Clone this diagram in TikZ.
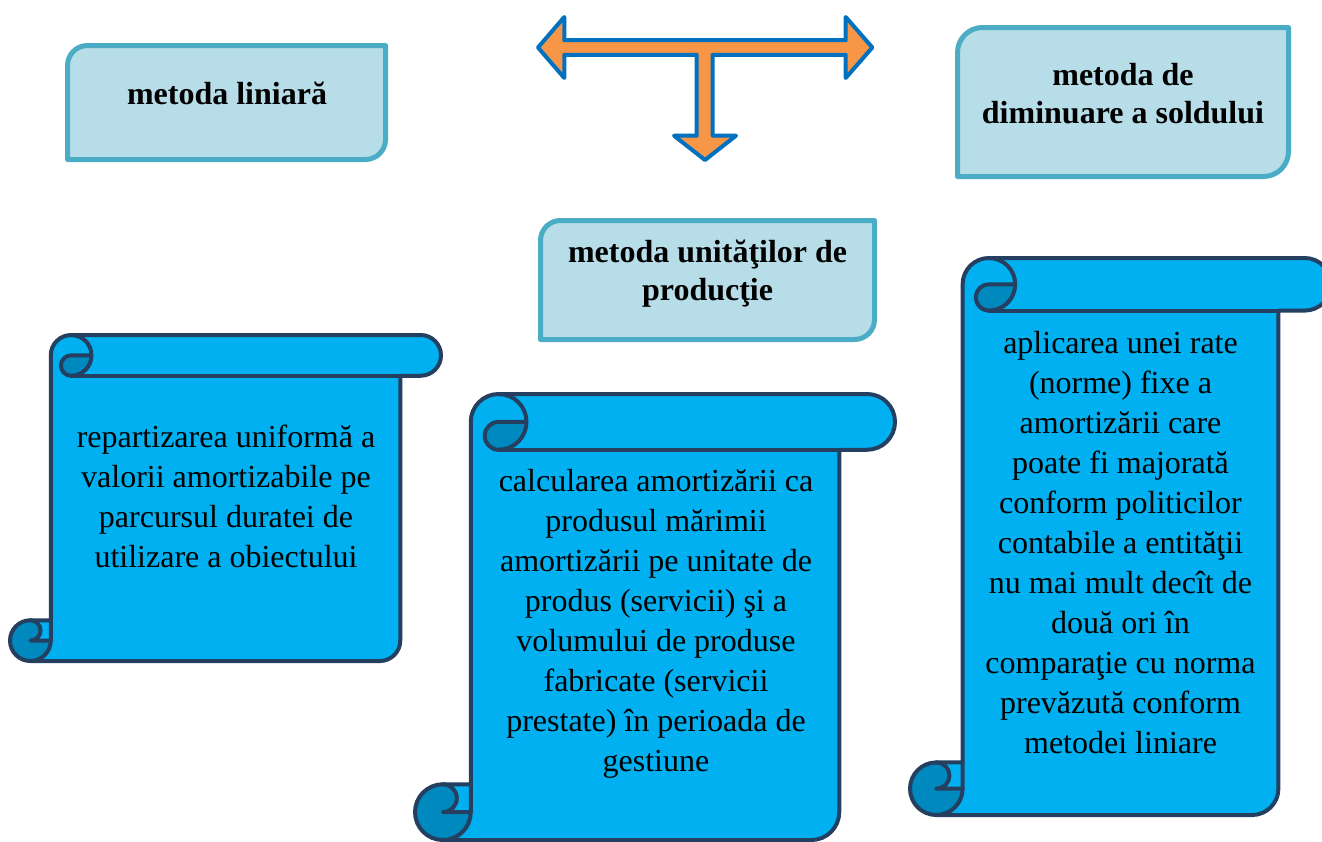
\documentclass[tikz,border=0pt]{standalone}
\usepackage{fontspec}
\setmainfont{Liberation Serif}
\usepackage{xcolor}
\usepackage{tikz}
\usetikzlibrary{positioning}
\definecolor{hdrfill}{HTML}{B7DDE8}
\definecolor{hdrline}{HTML}{4BACC6}
\definecolor{arrowfill}{HTML}{F79646}
\definecolor{arrowline}{HTML}{0070C0}
\definecolor{paper}{HTML}{00B0F0}
\definecolor{paperdark}{HTML}{0089BF}
\definecolor{paperline}{HTML}{243F60}
\tikzset{
  HdrBox/.style={
    draw=hdrline, fill=hdrfill,
    line width=2.5pt, line join=round
  },
  HdrText/.style={
    inner sep=0pt, align=center, anchor=north,
    font=\fontsize{16}{18.8}\selectfont\bfseries
  },
  ScrollText/.style={
    inner sep=0pt, align=center, anchor=north,
    font=\fontsize{16}{20}\selectfont
  },
  TArrow/.style={
    draw=arrowline, fill=arrowfill,
    line width=2pt, line join=round
  }
}
\newcommand{\HeaderBox}[5]{%
  % #1,#2 = top left, #3,#4 = bottom right, #5 = corner radius
  \draw[HdrBox] (#1,#2+#5) arc[start angle=180, delta angle=90, radius=#5]
    -- (#3,#2) -- (#3,#4-#5) arc[start angle=0, delta angle=90, radius=#5]
    -- (#1,#4) -- cycle;
}
\newcommand{\ScrollShape}[5]{%
  % #1,#2 = top left, #3 = width, #4 = height, #5 = size of the roll
  \pgfmathsetmacro{\scX}{#1}\pgfmathsetmacro{\scY}{#2}%
  \pgfmathsetmacro{\scR}{#1+#3}\pgfmathsetmacro{\scB}{#2+#4}%
  \pgfmathsetmacro{\scC}{#5}\pgfmathsetmacro{\scH}{#5/2}\pgfmathsetmacro{\scQ}{#5/4}%
  % paper
  \fill[paper] (\scX+\scH,\scB-\scC) -- (\scX+\scC,\scB-\scC) -- (\scX+\scC,\scY+\scH)
    arc[start angle=180, delta angle=90, radius=\scH] -- (\scR-\scH,\scY)
    arc[start angle=270, delta angle=180, radius=\scH] -- (\scR-\scC,\scY+\scC)
    -- (\scR-\scC,\scB-\scH) arc[start angle=0, delta angle=90, radius=\scH]
    -- (\scX+\scH,\scB) -- cycle;
  % rolled ends
  \fill[paperdark] (\scX+2*\scC,\scY+\scH) arc[start angle=0, delta angle=90, radius=\scH]
    arc[start angle=90, delta angle=180, radius=\scQ] -- cycle;
  \fill[paperdark] (\scX+\scC,\scB-\scH) arc[start angle=0, delta angle=270, radius=\scH]
    arc[start angle=270, delta angle=180, radius=\scQ] -- cycle;
  % outline
  \begin{scope}[draw=paperline, line width=2pt, line join=round, line cap=round]
    \draw (\scX+\scC,\scB-\scC) -- (\scX+\scC,\scY+\scH)
      arc[start angle=180, delta angle=90, radius=\scH] -- (\scR-\scH,\scY)
      arc[start angle=270, delta angle=180, radius=\scH] -- (\scR-\scC,\scY+\scC)
      -- (\scR-\scC,\scB-\scH) arc[start angle=0, delta angle=90, radius=\scH]
      -- (\scX+\scH,\scB) arc[start angle=90, delta angle=180, radius=\scH] -- cycle;
    \draw (\scX+\scC+\scH,\scY) arc[start angle=270, delta angle=180, radius=\scH]
      arc[start angle=90, delta angle=180, radius=\scQ] -- (\scX+2*\scC,\scY+\scH);
    \draw (\scR-\scC,\scY+\scC) -- (\scX+\scC+\scH,\scY+\scC);
    \draw (\scX+\scH,\scB-\scC) arc[start angle=270, delta angle=180, radius=\scQ]
      -- (\scX+\scC,\scB-\scH);
    \draw (\scX+\scH,\scB) arc[start angle=90, delta angle=-90, radius=\scH]
      -- (\scX+\scC,\scB-\scC);
  \end{scope}
}

\begin{document}
\begin{tikzpicture}[x=0.5pt, y=-0.5pt]
  \useasboundingbox (0,0) rectangle (1322,841);

  % method boxes
  \HeaderBox{67.5}{45.5}{385.5}{159.5}{20}
  \HeaderBox{957.5}{27.5}{1288.5}{176.5}{25}
  \HeaderBox{540.5}{220.5}{874.5}{339.5}{20}
  \node[HdrText] (liniara) at (227,78) {\strut metoda liniară};
  \node[HdrText] (diminuare) at (1123,58.9) {\strut metoda de\\diminuare a soldului};
  \node[HdrText] (unitati) at (707.6,236) {\strut metoda unităţilor de\\producţie};

  % three-way arrow
  \draw[TArrow] (538,47.5) -- (564.3,17) -- (564.3,40.2) -- (845.7,40.2) -- (845.7,17)
    -- (872.3,47.5) -- (845.7,78) -- (845.7,54.8) -- (712.7,54.8) -- (712.7,135.7)
    -- (736,135.7) -- (705,160) -- (674,135.7) -- (696.7,135.7) -- (696.7,54.8)
    -- (564.3,54.8) -- (564.3,78) -- cycle;

  % scrolls
  \ScrollShape{10}{335}{431}{326}{40.75}
  \ScrollShape{415}{394}{480}{446}{55.75}
  \ScrollShape{910}{258}{421}{557}{52.6}
  \node[ScrollText] (txtliniara) at (226,419.5)
    {\strut repartizarea uniformă a\\valorii amortizabile pe\\parcursul duratei de\\utilizare a obiectului};
  \node[ScrollText] (txtunitati) at (656,462.7)
    {\strut calcularea amortizării ca\\produsul mărimii\\amortizării pe unitate de\\produs (servicii) şi a\\volumului de produse\\fabricate (servicii\\prestate) în perioada de\\gestiune};
  \node[ScrollText] (txtdiminuare) at (1120.5,324.7)
    {\strut aplicarea unei rate\\(norme) fixe a\\amortizării care\\poate fi majorată\\conform politicilor\\contabile a entităţii\\nu mai mult decît de\\două ori în\\comparaţie cu norma\\prevăzută conform\\metodei liniare};
\end{tikzpicture}
\end{document}
